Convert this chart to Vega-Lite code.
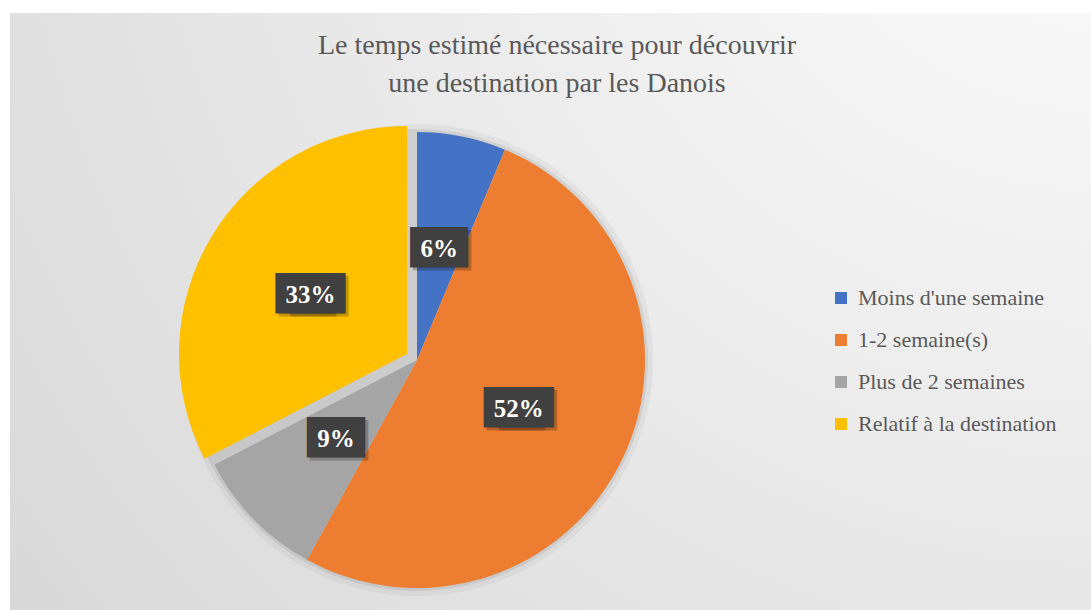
{
  "$schema": "https://vega.github.io/schema/vega-lite/v6.json",
  "width": 1094,
  "height": 600,
  "padding": {"left": 10, "top": 13, "right": 0, "bottom": 0},
  "autosize": {"type": "pad"},
  "background": "#ffffff",
  "title": {
    "text": ["Le temps estimé nécessaire pour découvrir", "une destination par les Danois"],
    "font": "Liberation Serif",
    "fontSize": 28,
    "fontWeight": "normal",
    "color": "#595959",
    "lineHeight": 38,
    "anchor": "middle",
    "frame": "group",
    "offset": -85
  },
  "config": {"view": {"stroke": "#bfbfbf", "strokeWidth": 1}},
  "data": {
    "values": [
      {"cat": "Moins d'une semaine", "v": 0.063, "ordre": 1},
      {"cat": "1-2 semaine(s)", "v": 0.517, "ordre": 2},
      {"cat": "Plus de 2 semaines", "v": 0.094, "ordre": 3},
      {"cat": "Relatif à la destination", "v": 0.326, "ordre": 4}
    ]
  },
  "layer": [
    {
      "data": {"values": [{}]},
      "mark": {
        "type": "rect",
        "color": {
          "gradient": "radial",
          "x1": 1, "y1": 0, "r1": 0,
          "x2": 1, "y2": 0, "r2": 1.4,
          "stops": [
            {"offset": 0, "color": "#ffffff"},
            {"offset": 1, "color": "#d4d4d4"}
          ]
        }
      },
      "encoding": {}
    },
    {
      "data": {"values": [{}]},
      "mark": {"type": "arc", "x": 407, "y": 347, "outerRadius": 236, "theta": 0, "theta2": 6.2832, "color": "#000000", "opacity": 0.04},
      "encoding": {}
    },
    {
      "data": {"values": [{}]},
      "mark": {"type": "arc", "x": 407, "y": 347, "outerRadius": 231, "theta": 0, "theta2": 6.2832, "color": "#000000", "opacity": 0.07},
      "encoding": {}
    },
    {
      "mark": {"type": "arc", "x": 407, "y": 347, "outerRadius": 228},
      "encoding": {
        "theta": {"field": "v", "type": "quantitative", "stack": true},
        "order": {"field": "ordre"},
        "color": {
          "field": "cat",
          "type": "nominal",
          "scale": {
            "domain": ["Moins d'une semaine", "1-2 semaine(s)", "Plus de 2 semaines", "Relatif à la destination"],
            "range": ["#4472C4", "#ED7D31", "#A5A5A5", "#FFC000"]
          },
          "legend": {
            "orient": "none",
            "legendX": 820,
            "legendY": 274,
            "title": null,
            "symbolType": "square",
            "symbolSize": 144,
            "symbolStrokeWidth": 0,
            "labelFont": "Liberation Serif",
            "labelFontSize": 22,
            "labelColor": "#595959",
            "labelOffset": 6,
            "labelLimit": 400,
            "rowPadding": 20
          }
        },
        "opacity": {"condition": {"test": "datum.ordre === 4", "value": 0}, "value": 1}
      }
    },
    {
      "mark": {"type": "arc", "x": 407, "y": 347, "outerRadius": 228, "xOffset": -10, "yOffset": -6},
      "encoding": {
        "theta": {"field": "v", "type": "quantitative", "stack": true},
        "order": {"field": "ordre"},
        "color": {"field": "cat", "type": "nominal"},
        "opacity": {"condition": {"test": "datum.ordre === 4", "value": 1}, "value": 0}
      }
    },
    {
      "mark": {"type": "text", "x": 407, "y": 347, "radius": 113, "dx": 3, "dy": 3, "font": "DejaVu Sans", "fontSize": 34, "align": "center", "baseline": "middle", "color": "#000000", "text": "▕██▏"},
      "encoding": {
        "theta": {"field": "v", "type": "quantitative", "stack": true},
        "order": {"field": "ordre"},
        "detail": {"field": "cat"},
        "opacity": {"condition": {"test": "datum.ordre !== 4 && datum.v < 0.3", "value": 0.22}, "value": 0}
      }
    },
    {
      "mark": {"type": "text", "x": 407, "y": 347, "radius": 113, "dx": -3, "dy": 3, "font": "DejaVu Sans", "fontSize": 34, "align": "center", "baseline": "middle", "color": "#000000", "text": "▕██▏"},
      "encoding": {
        "theta": {"field": "v", "type": "quantitative", "stack": true},
        "order": {"field": "ordre"},
        "detail": {"field": "cat"},
        "opacity": {"condition": {"test": "datum.ordre !== 4 && datum.v > 0.3", "value": 0.22}, "value": 0}
      }
    },
    {
      "mark": {"type": "text", "x": 407, "y": 347, "radius": 113, "dx": 9, "dy": 3, "font": "DejaVu Sans", "fontSize": 34, "align": "center", "baseline": "middle", "color": "#000000", "text": "▕██▏"},
      "encoding": {
        "theta": {"field": "v", "type": "quantitative", "stack": true},
        "order": {"field": "ordre"},
        "detail": {"field": "cat"},
        "opacity": {"condition": {"test": "datum.ordre !== 4 && datum.v > 0.3", "value": 0.22}, "value": 0}
      }
    },
    {
      "mark": {"type": "text", "x": 407, "y": 347, "radius": 113, "font": "DejaVu Sans", "fontSize": 34, "align": "center", "baseline": "middle", "color": "#404040", "text": "▕██▏"},
      "encoding": {
        "theta": {"field": "v", "type": "quantitative", "stack": true},
        "order": {"field": "ordre"},
        "detail": {"field": "cat"},
        "opacity": {"condition": {"test": "datum.ordre !== 4 && datum.v < 0.3", "value": 1}, "value": 0}
      }
    },
    {
      "mark": {"type": "text", "x": 407, "y": 347, "radius": 113, "dx": -6, "font": "DejaVu Sans", "fontSize": 34, "align": "center", "baseline": "middle", "color": "#404040", "text": "▕██▏"},
      "encoding": {
        "theta": {"field": "v", "type": "quantitative", "stack": true},
        "order": {"field": "ordre"},
        "detail": {"field": "cat"},
        "opacity": {"condition": {"test": "datum.ordre !== 4 && datum.v > 0.3", "value": 1}, "value": 0}
      }
    },
    {
      "mark": {"type": "text", "x": 407, "y": 347, "radius": 113, "dx": 6, "font": "DejaVu Sans", "fontSize": 34, "align": "center", "baseline": "middle", "color": "#404040", "text": "▕██▏"},
      "encoding": {
        "theta": {"field": "v", "type": "quantitative", "stack": true},
        "order": {"field": "ordre"},
        "detail": {"field": "cat"},
        "opacity": {"condition": {"test": "datum.ordre !== 4 && datum.v > 0.3", "value": 1}, "value": 0}
      }
    },
    {
      "mark": {"type": "text", "x": 407, "y": 347, "radius": 113, "font": "Liberation Serif", "fontWeight": "bold", "fontSize": 25, "align": "center", "baseline": "middle", "color": "#ffffff"},
      "encoding": {
        "theta": {"field": "v", "type": "quantitative", "stack": true},
        "order": {"field": "ordre"},
        "detail": {"field": "cat"},
        "text": {"field": "v", "type": "quantitative", "format": ".0%"},
        "opacity": {"condition": {"test": "datum.ordre === 4", "value": 0}, "value": 1}
      }
    },
    {
      "mark": {"type": "text", "x": 407, "y": 347, "radius": 113, "xOffset": -10, "yOffset": -6, "dx": -3, "dy": 3, "font": "DejaVu Sans", "fontSize": 34, "align": "center", "baseline": "middle", "color": "#000000", "text": "▕██▏"},
      "encoding": {
        "theta": {"field": "v", "type": "quantitative", "stack": true},
        "order": {"field": "ordre"},
        "detail": {"field": "cat"},
        "opacity": {"condition": {"test": "datum.ordre === 4", "value": 0.22}, "value": 0}
      }
    },
    {
      "mark": {"type": "text", "x": 407, "y": 347, "radius": 113, "xOffset": -10, "yOffset": -6, "dx": 9, "dy": 3, "font": "DejaVu Sans", "fontSize": 34, "align": "center", "baseline": "middle", "color": "#000000", "text": "▕██▏"},
      "encoding": {
        "theta": {"field": "v", "type": "quantitative", "stack": true},
        "order": {"field": "ordre"},
        "detail": {"field": "cat"},
        "opacity": {"condition": {"test": "datum.ordre === 4", "value": 0.22}, "value": 0}
      }
    },
    {
      "mark": {"type": "text", "x": 407, "y": 347, "radius": 113, "xOffset": -10, "yOffset": -6, "dx": -6, "font": "DejaVu Sans", "fontSize": 34, "align": "center", "baseline": "middle", "color": "#404040", "text": "▕██▏"},
      "encoding": {
        "theta": {"field": "v", "type": "quantitative", "stack": true},
        "order": {"field": "ordre"},
        "detail": {"field": "cat"},
        "opacity": {"condition": {"test": "datum.ordre === 4", "value": 1}, "value": 0}
      }
    },
    {
      "mark": {"type": "text", "x": 407, "y": 347, "radius": 113, "xOffset": -10, "yOffset": -6, "dx": 6, "font": "DejaVu Sans", "fontSize": 34, "align": "center", "baseline": "middle", "color": "#404040", "text": "▕██▏"},
      "encoding": {
        "theta": {"field": "v", "type": "quantitative", "stack": true},
        "order": {"field": "ordre"},
        "detail": {"field": "cat"},
        "opacity": {"condition": {"test": "datum.ordre === 4", "value": 1}, "value": 0}
      }
    },
    {
      "mark": {"type": "text", "x": 407, "y": 347, "radius": 113, "xOffset": -10, "yOffset": -6, "font": "Liberation Serif", "fontWeight": "bold", "fontSize": 25, "align": "center", "baseline": "middle", "color": "#ffffff"},
      "encoding": {
        "theta": {"field": "v", "type": "quantitative", "stack": true},
        "order": {"field": "ordre"},
        "detail": {"field": "cat"},
        "text": {"field": "v", "type": "quantitative", "format": ".0%"},
        "opacity": {"condition": {"test": "datum.ordre === 4", "value": 1}, "value": 0}
      }
    }
  ]
}
